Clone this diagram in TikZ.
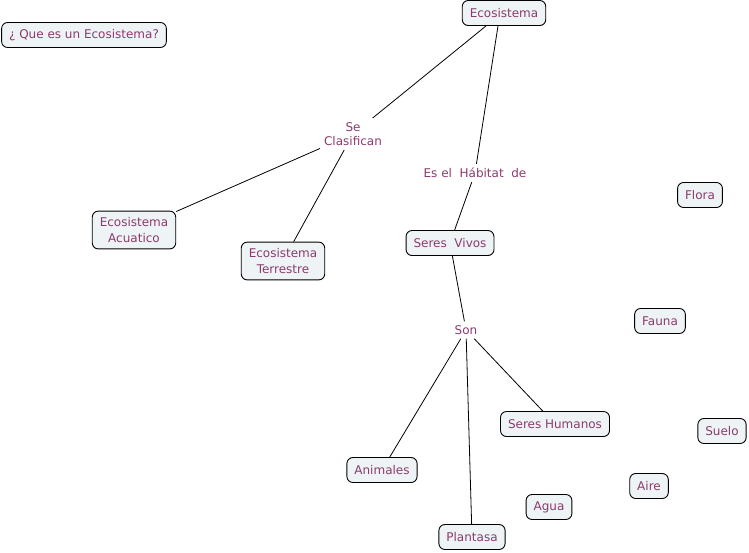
\documentclass[tikz,border=0pt]{standalone}
\usepackage{fontspec}
\setmainfont{DejaVu Sans}
\definecolor{txt}{HTML}{8A3B6E}
\definecolor{boxfill}{HTML}{EEF3F5}
\begin{document}
\begin{tikzpicture}[x=1pt,y=-1pt,
  concept/.style={draw=black,line width=0.9pt,rounded corners=6pt,fill=boxfill,
    text=txt,font=\fontsize{12}{15.5}\selectfont,inner xsep=7.5pt,inner ysep=6.5pt,
    minimum height=25pt,align=center},
  linker/.style={text=txt,font=\fontsize{12}{14.5}\selectfont,inner sep=4pt,align=center},
  conn/.style={draw=black,line width=0.8pt}]
\useasboundingbox (0,0) rectangle (749,552);
\node[concept] (q) at (84,35) {¿ Que es un Ecosistema?};
\node[concept] (eco) at (504,13) {Ecosistema};
\node[linker] (se) at (353,134) {Se\\Clasifican};
\node[linker] (es) at (475,173) {Es el\ \ Hábitat\ \ de};
\node[concept] (acu) at (134,230) {Ecosistema\\Acuatico};
\node[concept] (ter) at (283,261) {Ecosistema\\Terrestre};
\node[concept] (sv) at (450,243) {Seres\ \ Vivos};
\node[concept] (flora) at (700,195) {Flora};
\node[linker] (son) at (466,330) {Son};
\node[concept] (fauna) at (660,321) {Fauna};
\node[concept] (sh) at (555,424) {Seres Humanos};
\node[concept] (suelo) at (722,431) {Suelo};
\node[concept] (ani) at (382,470) {Animales};
\node[concept] (aire) at (649,486) {Aire};
\node[concept] (agua) at (549,507) {Agua};
\node[concept] (pla) at (472,537) {Plantasa};
\coordinate (e1) at ([xshift=-18pt]eco.south);
\coordinate (e2) at ([xshift=-6pt]eco.south);
\draw[conn] (e1) -- (se);
\draw[conn] (e2) -- (es);
\draw[conn] (es) -- (sv);
\draw[conn] (se) -- (acu);
\draw[conn] (se) -- (ter);
\draw[conn] (sv) -- (son);
\draw[conn] (son) -- (ani);
\draw[conn] (son) -- (pla);
\draw[conn] (son) -- (sh);
\end{tikzpicture}
\end{document}
